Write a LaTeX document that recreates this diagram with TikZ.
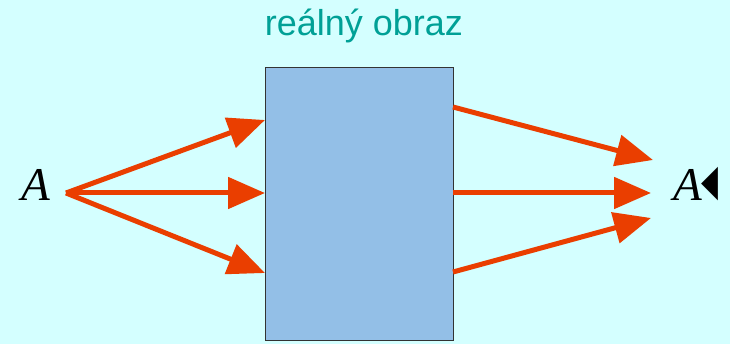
\documentclass[tikz,border=0pt]{standalone}
\usepackage{fontspec}
\setmainfont{Liberation Serif}
\newfontfamily\titlefont{Liberation Sans}
\newfontfamily\symfont{DejaVu Sans}
\usetikzlibrary{arrows.meta}
\definecolor{bgcyan}{HTML}{D4FFFF}
\definecolor{titleteal}{HTML}{00A096}
\definecolor{boxblue}{HTML}{93BFE7}
\definecolor{boxedge}{HTML}{333333}
\definecolor{rayred}{HTML}{EA3E00}
\tikzset{
  ray/.style={draw=rayred, line width=5pt, -{Triangle[length=37pt,width=31pt]}},
  lensbox/.style={draw=boxedge, line width=1pt, fill=boxblue, minimum width=188pt, minimum height=272pt, inner sep=0pt},
  pointlabel/.style={font=\fontsize{47}{47}\selectfont\itshape, inner sep=0pt, anchor=base},
}
\begin{document}
\begin{tikzpicture}[x=1pt,y=-1pt]
\fill[bgcyan] (0,0) rectangle (730,344);
\useasboundingbox (0,0) rectangle (730,344);
\node[font=\titlefont\fontsize{36}{36}\selectfont, text=titleteal, anchor=base, inner sep=0pt] (title) at (364,36) {reálný obraz};
\node[lensbox] (box) at (359,204) {};
\node[pointlabel] (A) at (36,201) {A};
\node[pointlabel, anchor=base west] (Ap) at (673,201) {A\raisebox{5pt}{\symfont\fontsize{44}{44}\selectfont\scalebox{0.5}[1]{◀}}};
\coordinate (src) at (66,193);
\coordinate (t1) at (265,120);
\coordinate (t2) at (265,193);
\coordinate (t3) at (265,273);
\coordinate (s1) at (453,107);
\coordinate (s2) at (453,193);
\coordinate (s3) at (453,272);
\coordinate (e1) at (653,160);
\coordinate (e2) at (651,193);
\coordinate (e3) at (651,218);
\draw[ray] (src) -- (t1);
\draw[ray] (src) -- (t2);
\draw[ray] (src) -- (t3);
\draw[ray] (s1) -- (e1);
\draw[ray] (s2) -- (e2);
\draw[ray] (s3) -- (e3);
\end{tikzpicture}
\end{document}
